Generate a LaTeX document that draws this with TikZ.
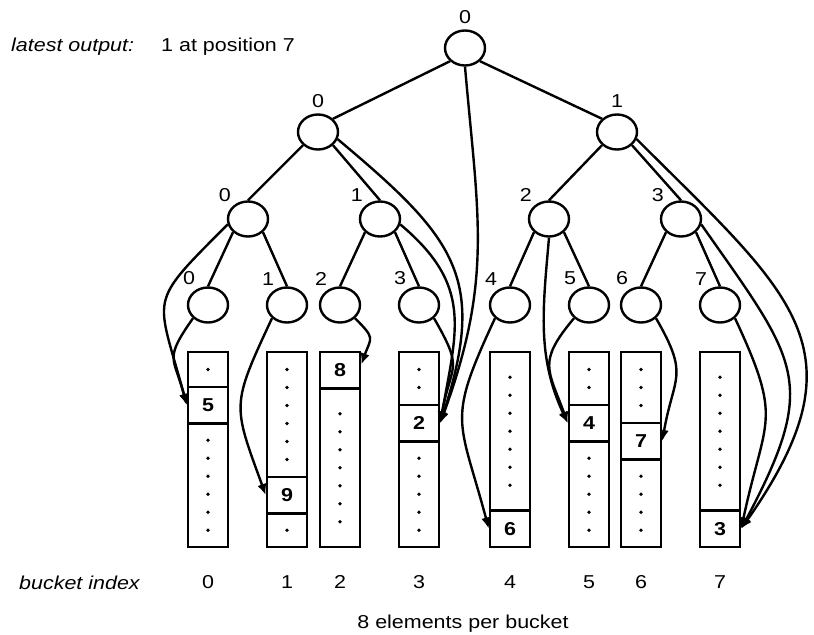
\documentclass[tikz,border=0pt]{standalone}
\usepackage{fontspec}
\setmainfont{Liberation Sans}[FakeStretch=1.15]
\usetikzlibrary{shapes.geometric,arrows.meta}

\begin{document}
\begin{tikzpicture}[x=0.75pt, y=-0.75pt,
  font=\fontsize{14}{17}\selectfont,
  line width=1.8pt,
  vert/.style={draw, ellipse, minimum width=30pt, minimum height=26.25pt, inner sep=0pt},
  cellbox/.style={draw, rectangle, minimum width=30pt, minimum height=27.4pt, inner sep=0pt,
    font=\fontsize{14}{17}\selectfont\bfseries},
  wire/.style={-{Latex[length=8.5pt, width=7pt]}},
  side/.style={inner sep=1.5pt}]

\useasboundingbox (0,0) rectangle (814,635);

\newcommand\TOP{352}
\newcommand\BOT{547}

%% header
\node[anchor=base west, inner sep=0pt] (hdr) at (10,52) {\itshape latest output:};
\node[anchor=base west, inner sep=0pt] (last) at (160,52) {1 at position 7};

%% tree
\node[vert, label=above:0] (root) at (465,48) {};
\node[vert, label=above:0] (n10) at (318,132) {};
\node[vert, label=above:1] (n11) at (617,132) {};
\node[vert, label={[side]135:0}] (n20) at (248,219) {};
\node[vert, label={[side]135:1}] (n21) at (380,219) {};
\node[vert, label={[side]135:2}] (n22) at (549,219) {};
\node[vert, label={[side]135:3}] (n23) at (681,219) {};

%% leaves and buckets
\foreach \i/\x/\v/\p in {0/208/5/1, 1/287/9/6, 2/340/8/0, 3/419/2/2,
                         4/510/6/7, 5/589/4/2, 6/641/7/3, 7/720/3/7}{
  \node[vert, label={[side]120:\i}] (l\i) at (\x,305) {};
  \pgfmathsetmacro\cy{\p==0 ? \TOP : (\p==7 ? \BOT-36.5 : \TOP+17+18*\p)}
  \draw ({\x-20},\TOP) rectangle ({\x+20},\BOT);
  \node[cellbox] (c\i) at (\x,{\cy+18.25}) {\v};
  \pgfmathtruncatemacro\m{7-\p}
  \ifnum\p>0
    \foreach \k in {1,...,\p}
      \fill (\x,{(\TOP+\cy)/2+18*(\k-(\p+1)/2)}) circle (1.4pt);
  \fi
  \ifnum\m>0
    \foreach \k in {1,...,\m}
      \fill (\x,{(\cy+36.5+\BOT)/2+18*(\k-(\m+1)/2)}) circle (1.4pt);
  \fi
  \node[anchor=base] (idx\i) at (\x,588) {\i};
}

%% edges
\draw (root.south west) -- (n10.north east);
\draw (root.south east) -- (n11.north west);
\draw (n10.south west) -- (n20.north);
\draw (n10.south east) -- (n21.north);
\draw (n11.south west) -- (n22.north);
\draw (n11.south east) -- (n23.north);
\foreach \a/\b/\c in {n20/l0/l1, n21/l2/l3, n22/l4/l5, n23/l6/l7}{
  \draw (\a.south west) -- (\b.north);
  \draw (\a.south east) -- (\c.north);
}

%% winners
\draw[wire] (l0.south west) to[out=-125, in=105, looseness=1.5] (c0.west);
\draw[wire] (n20.195) to[out=-135, in=105, looseness=1.6] (c0.west);
\draw[wire] (l1.south west) to[out=-115, in=110, looseness=1.4] (c1.west);
\draw[wire] (l2.south east) to[out=-45, in=70, looseness=1.6] (c2.15);
\draw[wire] (l3.south east) to[out=-60, in=80, looseness=1.5] (c3.east);
\draw[wire] (n21.-15) to[out=-40, in=80, looseness=1.2] (c3.east);
\draw[wire] (n10.-20) to[out=-40, in=72, looseness=1.3] (c3.east);
\draw[wire] (root.south) to[out=-85, in=70, looseness=1.1] (c3.east);
\draw[wire] (l4.south west) to[out=-115, in=105, looseness=1.4] (c4.west);
\draw[wire] (l5.south west) to[out=-130, in=110, looseness=1.4] (c5.west);
\draw[wire] (n22.south) to[out=-95, in=115, looseness=1] (c5.west);
\draw[wire] (l6.south east) to[out=-60, in=80, looseness=1.4] (c6.east);
\draw[wire] (l7.south east) to[out=-65, in=78, looseness=1.4] (c7.east);
\draw[wire] (n23.-15) to[out=-55, in=62, looseness=1.4] (c7.east);
\draw[wire] (n11.-20) to[out=-45, in=55, looseness=1.4] (c7.east);

%% footer
\node[anchor=base west, inner sep=0pt] (bidx) at (18,589) {\itshape bucket index};
\node[anchor=base, inner sep=0pt] (per) at (463,628) {8 elements per bucket};

\end{tikzpicture}
\end{document}
